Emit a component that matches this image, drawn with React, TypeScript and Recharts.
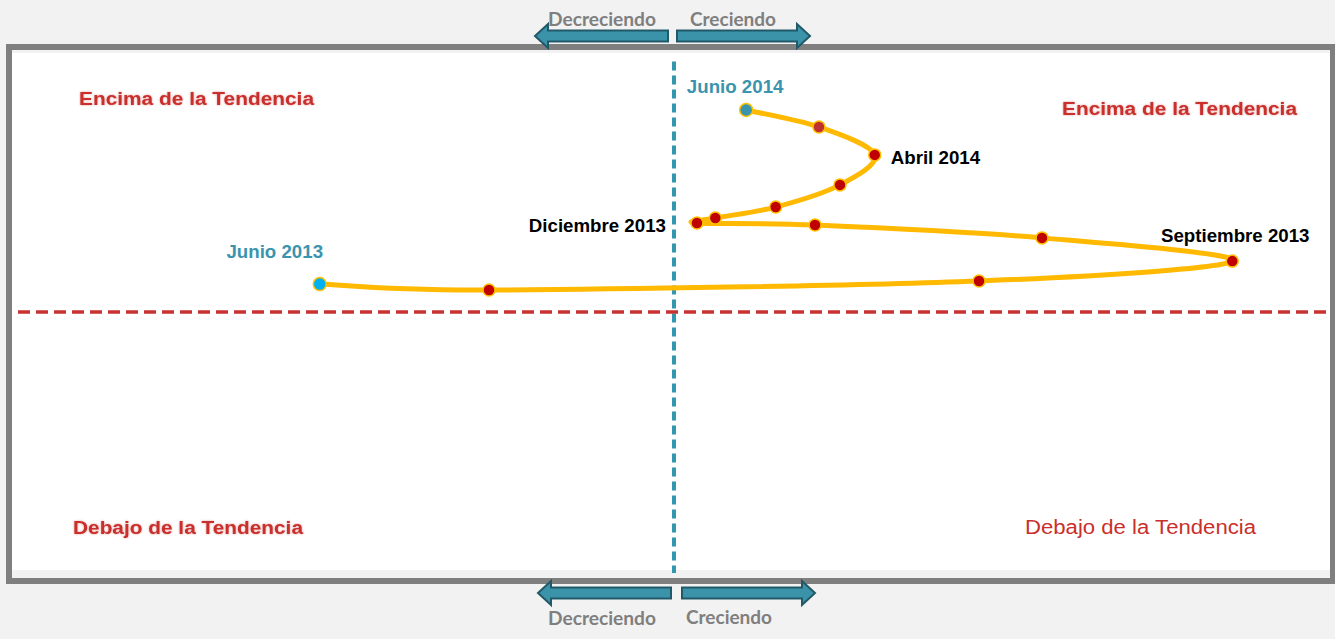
import React from "react";
import {
  ComposedChart,
  Line,
  XAxis,
  YAxis,
  ReferenceLine,
  LabelList,
} from "recharts";

// Ciclo: crecimiento (eje x) vs. posicion respecto a la tendencia (eje y)
const months = [
  "Jun 2013", "Jul 2013", "Ago 2013", "Sep 2013", "Oct 2013", "Nov 2013", "Dic 2013",
  "Ene 2014", "Feb 2014", "Mar 2014", "Abr 2014", "May 2014", "Jun 2014",
];
const growth = [-54, -28.2, 46.5, 85.1, 56.1, 21.5, 3.5, 6.3, 15.5, 25.3, 30.6, 22.1, 11.0];
const trend = [10.7, 8.4, 11.9, 19.5, 28.4, 33.3, 34.1, 36.0, 40.2, 48.7, 60.2, 70.9, 77.4];
const pointLabels = [
  "Junio 2013", "", "", "Septiembre 2013", "", "", "Diciembre 2013",
  "", "", "", "Abril 2014", "", "Junio 2014",
];

const data = months.map((m, i) => ({
  month: m,
  x: growth[i],
  y: trend[i],
  label: pointLabels[i],
}));

// smooth line like Excel (catmull-rom -> bezier)
const smooth = (context: any) => {
  let pts: number[][] = [];
  return {
    areaStart() {},
    areaEnd() {},
    lineStart() {
      pts = [];
    },
    point(x: number, y: number) {
      pts.push([x, y]);
    },
    lineEnd() {
      if (!pts.length) return;
      context.moveTo(pts[0][0], pts[0][1]);
      for (let i = 0; i < pts.length - 1; i++) {
        const p0 = pts[Math.max(i - 1, 0)];
        const p1 = pts[i];
        const p2 = pts[i + 1];
        const p3 = pts[Math.min(i + 2, pts.length - 1)];
        context.bezierCurveTo(
          p1[0] + (p2[0] - p0[0]) / 6,
          p1[1] + (p2[1] - p0[1]) / 6,
          p2[0] - (p3[0] - p1[0]) / 6,
          p2[1] - (p3[1] - p1[1]) / 6,
          p2[0],
          p2[1]
        );
      }
    },
  };
};

const labelPos: Record<number, { dx: number; dy: number; anchor: string; color: string }> = {
  0: { dx: -45, dy: -26, anchor: "middle", color: "#3a94ad" },
  3: { dx: 3, dy: -19, anchor: "middle", color: "#000" },
  6: { dx: -31, dy: 9, anchor: "end", color: "#000" },
  10: { dx: 16, dy: 9, anchor: "start", color: "#000" },
  12: { dx: -11, dy: -17, anchor: "middle", color: "#3a94ad" },
};

const renderLabel = (props: any) => {
  const { x, y, index, value } = props;
  const p = labelPos[index];
  if (!p || !value) return null;
  return (
    <text
      x={x + p.dx}
      y={y + p.dy}
      textAnchor={p.anchor}
      fill={p.color}
      fontFamily="'Liberation Sans', Arial, sans-serif"
      fontWeight="bold"
      fontSize={18.7}
    >
      {value}
    </text>
  );
};

const renderDot = (props: any) => {
  const { cx, cy, index } = props;
  let fill = "#c00000";
  if (index === 0) fill = "#00b0f0";
  if (index === data.length - 1) fill = "#3a94ad";
  if (index === 11) fill = "#c0302f";
  const r = index === 0 || index === data.length - 1 ? 6.5 : 6;
  return <circle key={"d" + index} cx={cx} cy={cy} r={r} fill={fill} stroke="#ffc000" strokeWidth={1.5} />;
};

const Arrow = ({ x1, x2, cy, dir }: { x1: number; x2: number; cy: number; dir: number }) => {
  // x1 = tail, x2 = tip
  const head = 13;
  const base = x2 - dir * head;
  const pts = [
    [x1, cy - 5.5],
    [base, cy - 5.5],
    [base, cy - 12],
    [x2, cy],
    [base, cy + 12],
    [base, cy + 5.5],
    [x1, cy + 5.5],
  ]
    .map((p) => p.join(","))
    .join(" ");
  return <polygon points={pts} fill="#3a93a8" stroke="#215968" strokeWidth={2} strokeLinejoin="miter" />;
};

const quadFont = "'Liberation Sans', Arial, sans-serif";
const arrowFont = "Lato, 'Open Sans', sans-serif";

export default function App() {
  return (
    <div style={{ position: "relative", width: 1335, height: 639, background: "#f2f2f2", overflow: "hidden" }}>
      <style>{`body{margin:0}`}</style>
      <div
        style={{
          position: "absolute",
          left: 6,
          top: 44,
          width: 1329,
          height: 540,
          boxSizing: "border-box",
          border: "6px solid #7f7f7f",
          borderRightWidth: 5,
          background: "#f2f2f2",
        }}
      />
      <div style={{ position: "absolute", left: 12, top: 53, width: 1318, height: 517, background: "#fff" }} />
      <svg width={1335} height={639} style={{ position: "absolute", left: 0, top: 0 }}>
        <Arrow x1={668} x2={535} cy={36} dir={-1} />
        <Arrow x1={677} x2={810} cy={36} dir={1} />
        <Arrow x1={671} x2={538} cy={593} dir={-1} />
        <Arrow x1={682} x2={815} cy={593} dir={1} />
        <g fontFamily={arrowFont} fontWeight="bold" fontSize={18} fill="#7f7f7f">
          <text x={548} y={26} textLength={108} lengthAdjust="spacingAndGlyphs">Decreciendo</text>
          <text x={690} y={26} textLength={86} lengthAdjust="spacingAndGlyphs">Creciendo</text>
          <text x={548} y={625} textLength={108} lengthAdjust="spacingAndGlyphs">Decreciendo</text>
          <text x={686} y={624} textLength={86} lengthAdjust="spacingAndGlyphs">Creciendo</text>
        </g>
        <g fontFamily={quadFont} fill="#c9302c" style={{ filter: "drop-shadow(0px 0px 1px rgba(200,60,60,0.5))" }}>
          <text x={79} y={105} fontWeight="bold" fontSize={18} textLength={235} lengthAdjust="spacingAndGlyphs">Encima de la Tendencia</text>
          <text x={1062} y={115} fontWeight="bold" fontSize={18} textLength={235} lengthAdjust="spacingAndGlyphs">Encima de la Tendencia</text>
          <text x={73} y={534} fontWeight="bold" fontSize={18} textLength={230} lengthAdjust="spacingAndGlyphs">Debajo de la Tendencia</text>
        </g>
        <text x={1025} y={534} fontFamily={quadFont} fontSize={19.5} fill="#c9302c" textLength={231} lengthAdjust="spacingAndGlyphs">
          Debajo de la Tendencia
        </text>
      </svg>
      <div style={{ position: "absolute", left: 0, top: 0 }}>
        <ComposedChart
          width={1335}
          height={639}
          data={data}
          margin={{ top: 51, left: 18, right: 5, bottom: 66 }}
        >
          <XAxis type="number" dataKey="x" domain={[-100, 100]} hide />
          <YAxis type="number" domain={[-100, 100]} hide />
          <ReferenceLine
            segment={[{ x: 0, y: 96 }, { x: 0, y: -100 }]}
            stroke="#3397b0"
            strokeWidth={4}
            strokeDasharray="9 5"
          />
          <ReferenceLine
            y={0}
            stroke="#c83232"
            strokeWidth={3.5}
            strokeDasharray="12 6"
          />
          <Line
            dataKey="y"
            type={smooth as any}
            stroke="#ffb900"
            strokeWidth={5}
            dot={renderDot}
            activeDot={false}
            isAnimationActive={false}
          >
            <LabelList dataKey="label" content={renderLabel} />
          </Line>
        </ComposedChart>
      </div>
    </div>
  );
}
